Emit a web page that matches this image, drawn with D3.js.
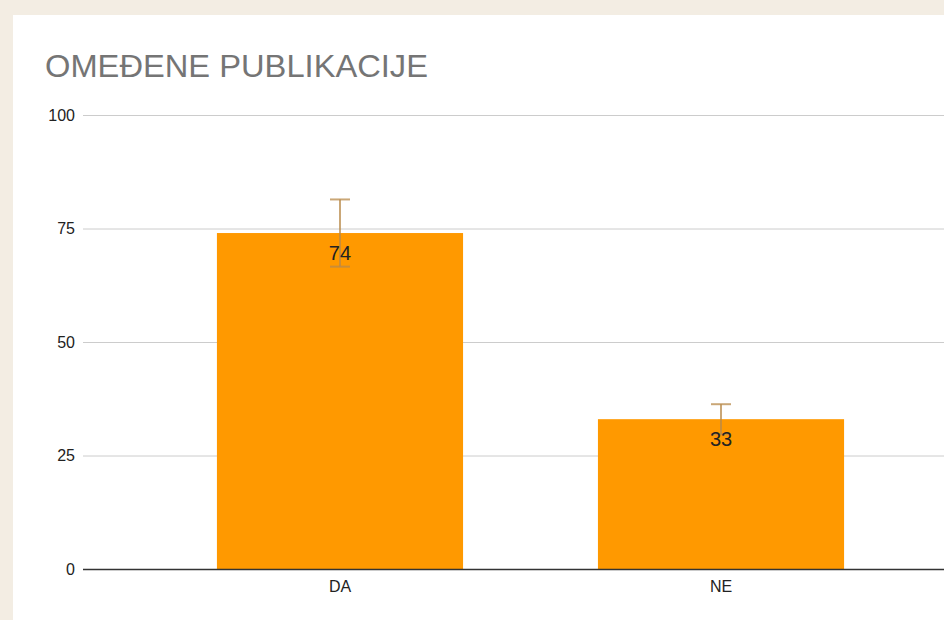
<!DOCTYPE html>
<html>
<head>
<meta charset="utf-8">
<script src="https://cdn.jsdelivr.net/npm/d3@7"></script>
<style>
  html, body { margin: 0; padding: 0; background: #f3ede3; }
  svg { display: block; }
</style>
</head>
<body>
<div id="chart"></div>
<script>
const categories = ['DA', 'NE'];
const values = [74, 33];
const errors = [7.4, 3.3];
const yTicks = [0, 25, 50, 75, 100];
const title = 'OMEĐENE PUBLIKACIJE';

const width = 944;
const height = 620;
const margin = { top: 115, left: 83, bottom: 51 };
const plotRight = 978;

const svg = d3.select('#chart')
  .append('svg')
  .attr('width', width)
  .attr('height', height);

svg.append('rect')
  .attr('x', 13)
  .attr('y', 15)
  .attr('width', width)
  .attr('height', height)
  .attr('fill', '#fff');

svg.append('text')
  .attr('x', 45)
  .attr('y', 77)
  .attr('fill', '#757575')
  .style('font-family', 'Liberation Sans, Arial, sans-serif')
  .style('font-size', '31px')
  .attr('textLength', 383)
  .attr('lengthAdjust', 'spacingAndGlyphs')
  .text(title);

const x = d3.scaleBand()
  .domain(categories)
  .range([margin.left, plotRight])
  .paddingInner(0.354)
  .paddingOuter(0.3515);

const y = d3.scaleLinear()
  .domain([0, 100])
  .range([height - margin.bottom, margin.top]);

// grid
const yAxis = svg.append('g')
  .attr('transform', `translate(${margin.left},0)`)
  .call(d3.axisLeft(y).tickValues(yTicks).tickSize(-(plotRight - margin.left)).tickPadding(8));
yAxis.select('.domain').remove();
yAxis.selectAll('.tick line').attr('stroke', '#ccc');
yAxis.selectAll('.tick text')
  .attr('fill', '#222')
  .style('font-family', 'Liberation Sans, Arial, sans-serif')
  .style('font-size', '16px');

svg.selectAll('.bar')
  .data(categories)
  .join('rect')
  .attr('class', 'bar')
  .attr('x', d => x(d))
  .attr('width', x.bandwidth())
  .attr('y', (d, i) => y(values[i]))
  .attr('height', (d, i) => y(0) - y(values[i]))
  .attr('fill', '#ff9900');

// baseline
svg.append('line')
  .attr('x1', margin.left)
  .attr('x2', plotRight)
  .attr('y1', y(0) + 0.5)
  .attr('y2', y(0) + 0.5)
  .attr('stroke', '#333')
  .attr('stroke-width', 1.3);

const xAxis = svg.append('g')
  .attr('transform', `translate(0,${y(0)})`)
  .call(d3.axisBottom(x).tickSize(0).tickPadding(12));
xAxis.select('.domain').remove();
xAxis.selectAll('.tick text')
  .attr('fill', '#222')
  .style('font-family', 'Liberation Sans, Arial, sans-serif')
  .style('font-size', '16px');

// error bars
const err = svg.append('g')
  .attr('stroke', '#b8894a')
  .attr('stroke-opacity', 0.75)
  .attr('stroke-width', 2);

categories.forEach((c, i) => {
  const cx = x(c) + x.bandwidth() / 2;
  const hi = y(values[i] + errors[i]);
  const lo = y(values[i] - errors[i]);
  err.append('line').attr('x1', cx).attr('x2', cx).attr('y1', hi).attr('y2', lo);
  err.append('line').attr('x1', cx - 10).attr('x2', cx + 10).attr('y1', hi).attr('y2', hi);
  err.append('line').attr('x1', cx - 10).attr('x2', cx + 10).attr('y1', lo).attr('y2', lo);
});

svg.selectAll('.label')
  .data(categories)
  .join('text')
  .attr('class', 'label')
  .attr('x', d => x(d) + x.bandwidth() / 2)
  .attr('y', (d, i) => y(values[i]) + 27)
  .attr('text-anchor', 'middle')
  .attr('fill', '#222')
  .style('font-family', 'Liberation Sans, Arial, sans-serif')
  .style('font-size', '20px')
  .text((d, i) => values[i]);
</script>
</body>
</html>
